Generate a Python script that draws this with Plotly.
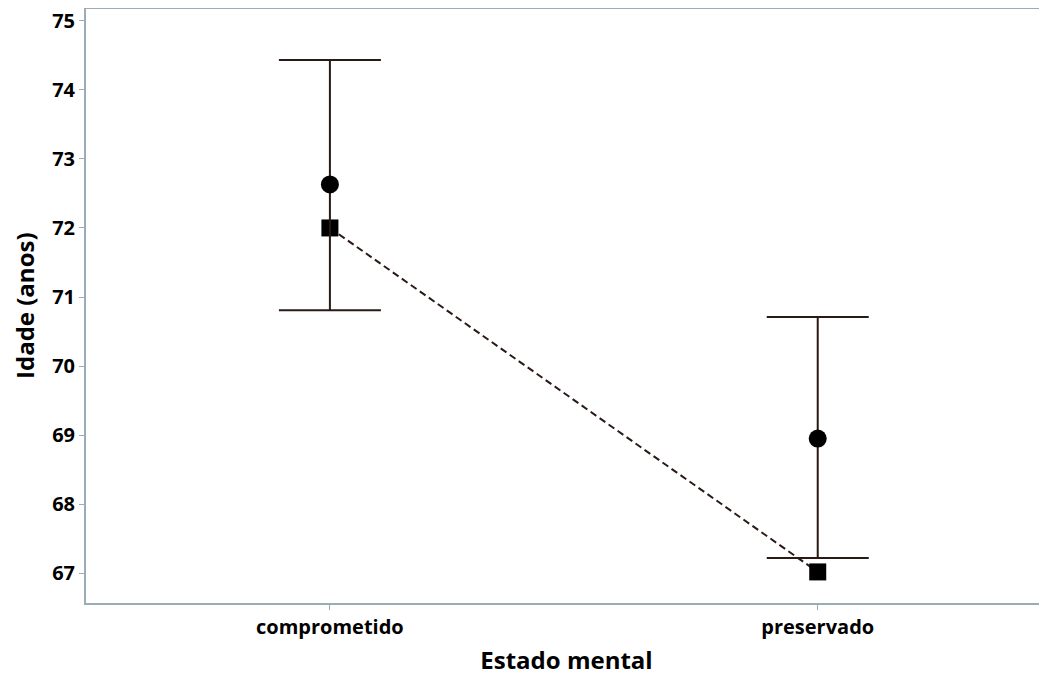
import plotly.graph_objects as go

categories = ["comprometido", "preservado"]
means = [72.63, 68.95]
upper = [74.43, 70.71]
lower = [70.81, 67.22]
medians = [72.0, 67.02]
y_ticks = [67, 68, 69, 70, 71, 72, 73, 74, 75]

xpos = list(range(len(categories)))
line_col = "#2a1a15"
axis_col = "#9aacb6"
font_fam = "'Open Sans', sans-serif"

fig = go.Figure()
fig.add_trace(go.Scatter(
    x=xpos, y=medians, mode="lines+markers",
    line=dict(color=line_col, width=2, dash="7px,4px"),
    marker=dict(symbol="square", size=17, color="black"),
    showlegend=False, hoverinfo="skip",
))
fig.add_trace(go.Scatter(
    x=xpos, y=means, mode="markers",
    marker=dict(symbol="circle", size=18, color="black"),
    error_y=dict(type="data", symmetric=False,
                 array=[u - m for u, m in zip(upper, means)],
                 arrayminus=[m - l for m, l in zip(means, lower)],
                 color=line_col, thickness=2, width=51),
    showlegend=False,
))

# page body adds an 8px offset; size figure so the plot area lands where the reference has it
fig.update_layout(
    width=1039, height=669,
    margin=dict(l=78, r=0, t=1, b=74),
    plot_bgcolor="white", paper_bgcolor="white",
    font=dict(family=font_fam, color="black"),
    annotations=[dict(
        text="<b>Idade (anos)</b>", textangle=-90, showarrow=False,
        xref="paper", yref="paper", x=0, y=0.5,
        xanchor="center", yanchor="middle", xshift=-62,
        font=dict(size=24, family=font_fam, color="black"),
    )],
)
fig.update_xaxes(
    range=[-0.5, 1.47], tickvals=xpos, ticktext=categories,
    showgrid=False, zeroline=False, showline=True, linecolor=axis_col, linewidth=2,
    mirror=True, ticks="outside", ticklen=5, tickcolor=axis_col,
    tickfont=dict(size=20, family=font_fam, weight="bold"),
    title=dict(text="<b>Estado mental</b>", font=dict(size=24), standoff=13),
)
fig.update_yaxes(
    range=[66.57, 75.17], tickvals=y_ticks,
    showgrid=False, zeroline=False, showline=True, linecolor=axis_col, linewidth=2,
    ticks="outside", ticklen=5, tickcolor=axis_col, ticklabeloverflow="allow",
    tickfont=dict(size=20, family=font_fam, weight="bold"),
)

fig.write_html("out.html")
